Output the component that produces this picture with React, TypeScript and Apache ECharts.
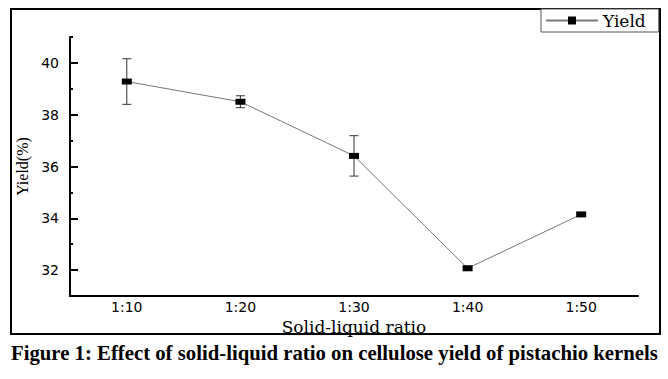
import React, { useEffect, useRef } from "react";
import * as echarts from "echarts";

const ratios = ["1:10", "1:20", "1:30", "1:40", "1:50"];
const yieldValues = [39.28, 38.5, 36.41, 32.07, 34.15];
const yieldErrors = [0.88, 0.23, 0.78, 0.08, 0];
const yMajorTicks = [32, 34, 36, 38, 40];
const yMinorTicks = [31, 33, 35, 37, 39, 41];
const captionText = "Figure 1: Effect of solid-liquid ratio on cellulose yield of pistachio kernels";

export default function App() {
  const ref = useRef<HTMLDivElement>(null);
  useEffect(() => {
    if (!ref.current) return;
    const chart = echarts.init(ref.current, null, { renderer: "svg" });
    const errData = ratios.map((r, i) => [i, yieldValues[i] - yieldErrors[i], yieldValues[i] + yieldErrors[i]]);
    chart.setOption({
      animation: false,
      backgroundColor: "#fff",
      title: {
        text: captionText,
        left: 11,
        top: 342,
        padding: 0,
        textStyle: { fontFamily: "Liberation Serif", fontWeight: "bold", fontSize: 20.75, color: "#000" },
      },
      graphic: [
        {
          type: "rect",
          shape: { x: 11, y: 9, width: 649, height: 325 },
          style: { fill: "none", stroke: "#000", lineWidth: 2 },
          z: 0,
        },
      ],
      legend: {
        data: ["Yield"],
        left: 541,
        top: 9,
        padding: [3, 13, 3, 4],
        itemWidth: 52,
        itemHeight: 10,
        itemGap: 5,
        backgroundColor: "#fff",
        borderColor: "#555",
        borderWidth: 1,
        borderRadius: 0,
        textStyle: { fontFamily: "DejaVu Serif", fontSize: 17, color: "#000" },
      },
      grid: { left: 70, right: 30, top: 37, bottom: 83 },
      xAxis: [
        {
          type: "category",
          data: ratios,
          boundaryGap: true,
          name: "Solid-liquid ratio",
          nameLocation: "middle",
          nameGap: 22,
          nameTextStyle: { fontFamily: "DejaVu Serif", fontSize: 17, color: "#000" },
          axisLine: { lineStyle: { color: "#000", width: 2 } },
          axisTick: { alignWithLabel: true, inside: true, length: 5, lineStyle: { color: "#000", width: 2 } },
          axisLabel: { fontFamily: "DejaVu Sans", fontSize: 14, color: "#000", margin: 4 },
          splitLine: { show: false },
        },
        {
          type: "category",
          data: ratios,
          boundaryGap: true,
          position: "bottom",
          axisLine: { show: false },
          axisTick: { alignWithLabel: false, inside: true, length: 2, lineStyle: { color: "#000", width: 2 } },
          axisLabel: { show: false },
          splitLine: { show: false },
        },
      ],
      yAxis: [
        {
          type: "value",
          min: 31,
          max: 41,
          name: "Yield(%)",
          nameLocation: "middle",
          nameGap: 40,
          nameRotate: 90,
          nameTextStyle: { fontFamily: "Liberation Serif", fontSize: 16, color: "#000" },
          axisLine: { show: true, lineStyle: { color: "#000", width: 2 } },
          axisTick: { show: true, inside: true, length: 8, customValues: yMajorTicks, lineStyle: { color: "#000", width: 2 } },
          axisLabel: { fontFamily: "DejaVu Sans", fontSize: 14, color: "#000", margin: 11, customValues: yMajorTicks },
          splitLine: { show: false },
        },
        {
          type: "value",
          min: 31,
          max: 41,
          position: "left",
          axisLine: { show: false },
          axisTick: { show: true, inside: true, length: 3, customValues: yMinorTicks, lineStyle: { color: "#000", width: 2 } },
          axisLabel: { show: false },
          splitLine: { show: false },
        },
      ],
      series: [
        {
          type: "custom",
          name: "err",
          xAxisIndex: 0,
          yAxisIndex: 0,
          data: errData,
          encode: { x: 0, y: [1, 2] },
          z: 3,
          renderItem: (params: any, api: any) => {
            const x = api.value(0);
            const top = api.coord([x, api.value(2)]);
            const bot = api.coord([x, api.value(1)]);
            const hw = 4.5;
            const st = { stroke: "#333", lineWidth: 1 };
            return {
              type: "group",
              children: [
                { type: "line", shape: { x1: top[0], y1: top[1], x2: bot[0], y2: bot[1] }, style: st },
                { type: "line", shape: { x1: top[0] - hw, y1: top[1], x2: top[0] + hw, y2: top[1] }, style: st },
                { type: "line", shape: { x1: bot[0] - hw, y1: bot[1], x2: bot[0] + hw, y2: bot[1] }, style: st },
              ],
            };
          },
        },
        {
          type: "line",
          name: "Yield",
          xAxisIndex: 0,
          yAxisIndex: 0,
          data: yieldValues,
          symbol: "rect",
          symbolSize: [10, 6],
          itemStyle: { color: "#000" },
          lineStyle: { color: "#777", width: 1 },
          z: 5,
        },
      ],
    });
    return () => chart.dispose();
  }, []);
  return <div ref={ref} style={{ position: "fixed", left: 0, top: 0, width: 668, height: 379 }} />;
}
